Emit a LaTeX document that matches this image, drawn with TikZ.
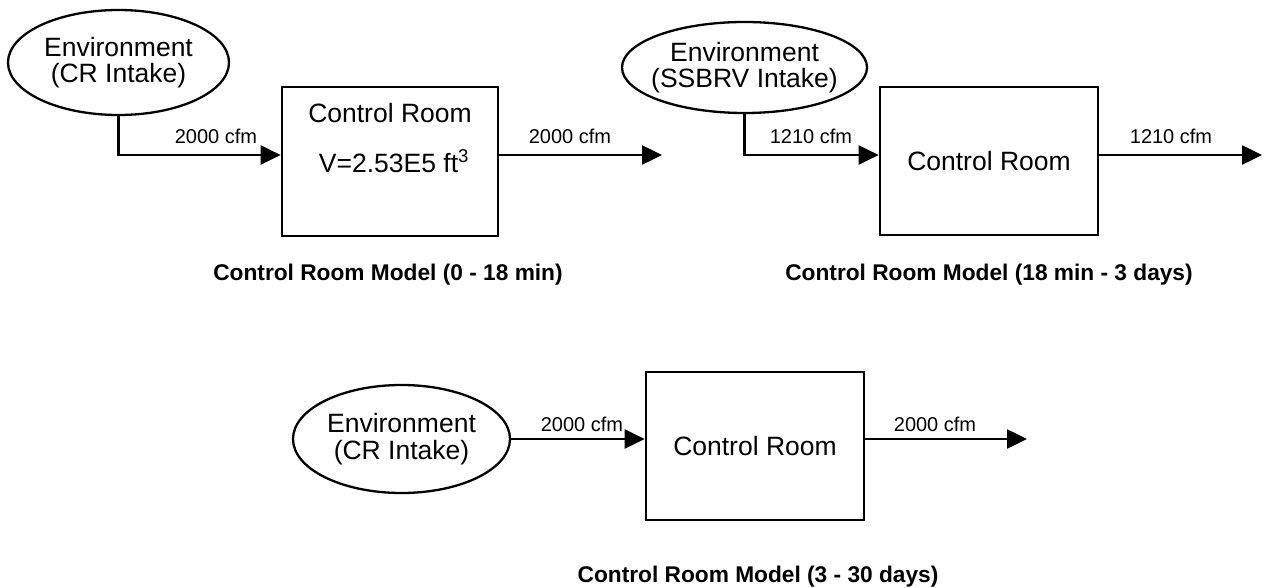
\documentclass[tikz,border=0pt]{standalone}
\usepackage{fontspec}
\setmainfont{Liberation Sans}
\usetikzlibrary{shapes.geometric,arrows.meta}
\begin{document}
\begin{tikzpicture}[x=1pt,y=-1pt,
  envshape/.style={draw, ellipse, line width=2.3pt, inner sep=0pt},
  roombox/.style={draw, rectangle, line width=2.7pt, inner sep=0pt},
  bigtext/.style={font=\fontsize{26.5}{26.5}\selectfont, align=center, inner sep=0pt},
  flowlabel/.style={font=\fontsize{20}{20}\selectfont, anchor=base, inner sep=0pt},
  caption/.style={font=\fontsize{22.7}{22.7}\selectfont\bfseries, anchor=base, inner sep=0pt},
  flow/.style={line width=2.5pt, -{Triangle[length=20pt,width=19pt]}},
]
\fill[white] (0,0) rectangle (1265,588);
\useasboundingbox (0,0) rectangle (1265,588);

% rows of the flow lines
\coordinate (row1) at (0,155);

% ---- model 1: 0 - 18 min
\node[envshape, minimum width=221pt, minimum height=105pt] (env1) at (118.5,62.5) {};
\node[bigtext] (env1t) at (env1.center) {Environment\\(CR Intake)};
\node[roombox, minimum width=216pt, minimum height=149pt] (room1) at (390,161.5) {};
\node[bigtext, anchor=base] (room1a) at (390,123) {Control Room};
\node[bigtext, anchor=base] (room1b) at (394,172) {V=2.53E5 ft\textsuperscript{3}};
\coordinate (out1) at (662,155);
\draw[flow] (env1.south) |- (room1.west |- row1);
\draw[flow] (room1.east |- row1) -- (out1);
\node[flowlabel] (q1in) at (216,144) {2000 cfm};
\node[flowlabel] (q1out) at (570,144) {2000 cfm};
\node[caption] (cap1) at (388,280) {Control Room Model (0 - 18 min)};

% ---- model 2: 18 min - 3 days
\node[envshape, minimum width=245pt, minimum height=91pt] (env2) at (744.5,67.5) {};
\node[bigtext] (env2t) at (env2.center) {Environment\\(SSBRV Intake)};
\node[roombox, minimum width=218pt, minimum height=148pt] (room2) at (989,161) {};
\node[bigtext] (room2t) at (room2.center) {Control Room};
\coordinate (out2) at (1262,155);
\draw[flow] (env2.south) |- (room2.west |- row1);
\draw[flow] (room2.east |- row1) -- (out2);
\node[flowlabel] (q2in) at (811,144) {1210 cfm};
\node[flowlabel] (q2out) at (1171,144) {1210 cfm};
\node[caption] (cap2) at (989,280) {Control Room Model (18 min - 3 days)};

% ---- model 3: 3 - 30 days
\node[envshape, minimum width=217pt, minimum height=108pt] (env3) at (401.5,439) {};
\node[bigtext] (env3t) at (env3.center) {Environment\\(CR Intake)};
\node[roombox, minimum width=218pt, minimum height=148pt] (room3) at (755,446) {};
\node[bigtext] (room3t) at (room3.center) {Control Room};
\coordinate (out3) at (1027,439);
\draw[flow] (env3.east) -- (room3.west |- env3.east);
\draw[flow] (room3.east |- env3.east) -- (out3);
\node[flowlabel] (q3in) at (582,431) {2000 cfm};
\node[flowlabel] (q3out) at (935,431) {2000 cfm};
\node[caption] (cap3) at (758,582) {Control Room Model (3 - 30 days)};
\end{tikzpicture}
\end{document}
